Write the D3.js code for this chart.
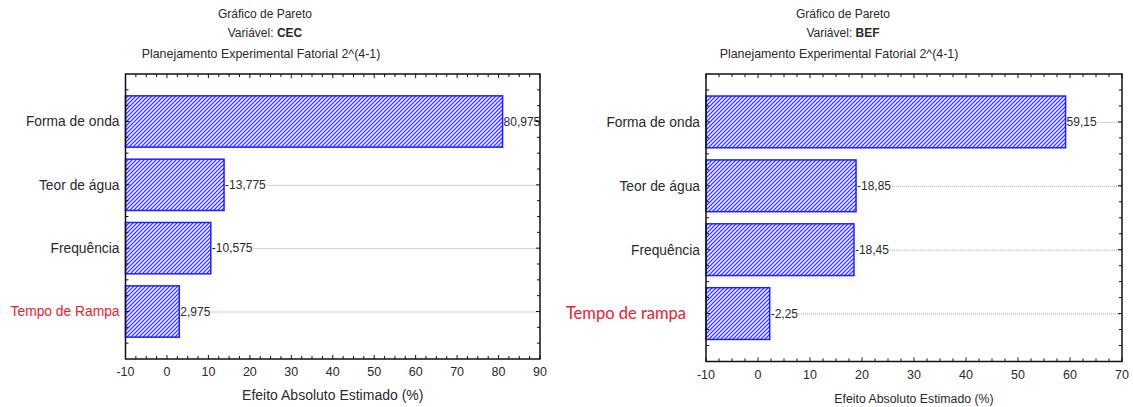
<!DOCTYPE html>
<html>
<head>
<meta charset="utf-8">
<script src="https://cdn.jsdelivr.net/npm/d3@7"></script>
<style>
  html, body { margin: 0; padding: 0; background: #fff; }
  svg { display: block; }
  text { font-family: "Liberation Sans", Arial, sans-serif; fill: #2a2a2a; }
</style>
</head>
<body>
<svg id="chart" width="1133" height="407"></svg>
<script>
// Factors, in Pareto order
const factorsCEC = ["Forma de onda", "Teor de água", "Frequência", "Tempo de Rampa"];
const factorsBEF = ["Forma de onda", "Teor de água", "Frequência", "Tempo de rampa"];

// Estimated effects (signed); bar length is the absolute value
const effectsCEC = [80.975, -13.775, -10.575, 2.975];
const effectsBEF = [59.15, -18.85, -18.45, -2.25];

// Axis ticks
const ticksCEC = [-10, 0, 10, 20, 30, 40, 50, 60, 70, 80, 90];
const ticksBEF = [-10, 0, 10, 20, 30, 40, 50, 60, 70];

const titleLine1 = "Gráfico de Pareto";
const titleVarPrefix = "Variável: ";
const titleLine3 = "Planejamento Experimental Fatorial 2^(4-1)";
const axisTitle = "Efeito Absoluto Estimado (%)";

const svg = d3.select("#chart");

// Diagonal hatch used for the bars
const defs = svg.append("defs");
const pat = defs.append("pattern")
  .attr("id", "hatch")
  .attr("patternUnits", "userSpaceOnUse")
  .attr("width", 4).attr("height", 4);
pat.append("rect").attr("width", 4).attr("height", 4).attr("fill", "#fff");
pat.append("path")
  .attr("d", "M-1,1 l2,-2 M0,4 l4,-4 M3,5 l2,-2")
  .attr("stroke", "#3a3aff").attr("stroke-width", 1.3);

const fmt = v => String(v).replace(".", ",");

function pareto(cfg) {
  const g = svg.append("g");
  const x = d3.scaleLinear().domain(cfg.domain).range([cfg.left, cfg.right]);
  const y = d3.scaleBand().domain(cfg.factors).range([cfg.top, cfg.bottom])
    .paddingInner(0.19).paddingOuter(0.345);
  const step = y.step();

  // Titles
  const tc = cfg.titleX;
  g.append("text").attr("x", tc).attr("y", 18).attr("text-anchor", "middle")
    .attr("font-size", 12).text(titleLine1);
  const t2 = g.append("text").attr("x", tc).attr("y", 37).attr("text-anchor", "middle")
    .attr("font-size", 12);
  t2.append("tspan").text(titleVarPrefix);
  t2.append("tspan").attr("font-weight", "bold").text(cfg.variable);
  g.append("text").attr("x", tc - 4).attr("y", 58).attr("text-anchor", "middle")
    .attr("font-size", 12.4).text(titleLine3);

  const data = cfg.factors.map((f, i) => ({ factor: f, effect: cfg.effects[i] }));

  // Value labels, with dotted reference lines running on to the right edge
  const labels = g.append("g");
  const lbl = labels.selectAll("text").data(data).join("text")
    .attr("x", d => x(Math.abs(d.effect)) + 1)
    .attr("y", d => y(d.factor) + y.bandwidth() / 2)
    .attr("dy", "0.35em")
    .attr("font-size", cfg.valueSize)
    .text(d => fmt(d.effect));
  lbl.each(function (d) {
    const w = this.getComputedTextLength();
    const x0 = x(Math.abs(d.effect)) + w + 2;
    if (x0 < cfg.right - 2) {
      g.insert("line", ":first-child")
        .attr("x1", x0).attr("x2", cfg.right)
        .attr("y1", y(d.factor) + y.bandwidth() / 2 + 0.5)
        .attr("y2", y(d.factor) + y.bandwidth() / 2 + 0.5)
        .attr("stroke", "#a8a8a8").attr("stroke-width", 1)
        .attr("stroke-dasharray", "1,1");
    }
  });

  // Bars
  g.append("g").selectAll("rect").data(data).join("rect")
    .attr("x", x(cfg.domain[0]))
    .attr("y", d => y(d.factor))
    .attr("width", d => x(Math.abs(d.effect)) - x(cfg.domain[0]))
    .attr("height", y.bandwidth())
    .attr("fill", "url(#hatch)")
    .attr("stroke", "#1f1fff").attr("stroke-width", 1.5);

  // Factor names
  g.append("g").selectAll("text").data(data).join("text")
    .attr("x", (d, i) => i === 3 ? cfg.left - cfg.redOffset : cfg.left - 6)
    .attr("y", d => y(d.factor) + y.bandwidth() / 2)
    .attr("dy", "0.35em")
    .attr("text-anchor", "end")
    .attr("font-size", (d, i) => i === 3 ? cfg.redSize : 13.8)
    .style("font-family", (d, i) => i === 3 ? cfg.redFont : null)
    .style("fill", (d, i) => i === 3 ? "#f0202a" : null)
    .text(d => d.factor);

  // Frame
  g.append("rect")
    .attr("x", cfg.left).attr("y", cfg.top)
    .attr("width", cfg.right - cfg.left).attr("height", cfg.bottom - cfg.top)
    .attr("fill", "none").attr("stroke", "#111").attr("stroke-width", 1.5);

  // X ticks: major every 10, minor every 2.5, on bottom and top edges
  const minor = d3.range(cfg.domain[0], cfg.domain[1] + 0.01, 2.5);
  const tk = g.append("g").attr("stroke", "#111").attr("stroke-width", 1);
  minor.forEach(v => {
    const major = Math.abs(v % 10) < 1e-6;
    const len = major ? 4 : 3;
    tk.append("line").attr("x1", x(v)).attr("x2", x(v))
      .attr("y1", cfg.bottom).attr("y2", cfg.bottom - len);
    tk.append("line").attr("x1", x(v)).attr("x2", x(v))
      .attr("y1", cfg.top).attr("y2", cfg.top + len);
  });
  // Y ticks every quarter step, on both sides
  const c0 = y(cfg.factors[0]) + y.bandwidth() / 2;
  for (let k = -4; k <= 20; k++) {
    const yy = c0 + k * step / 4;
    if (yy <= cfg.top + 2 || yy >= cfg.bottom - 2) continue;
    const len = k % 4 === 0 ? 4 : 3;
    tk.append("line").attr("x1", cfg.left).attr("x2", cfg.left + len)
      .attr("y1", yy).attr("y2", yy);
    tk.append("line").attr("x1", cfg.right).attr("x2", cfg.right - len)
      .attr("y1", yy).attr("y2", yy);
  }

  // Tick labels
  g.append("g").selectAll("text").data(cfg.ticks).join("text")
    .attr("x", d => x(d)).attr("y", cfg.bottom + 17)
    .attr("text-anchor", "middle").attr("font-size", 12.5)
    .text(d => d);

  // Axis title
  g.append("text").attr("x", (cfg.left + cfg.right) / 2 - 0).attr("y", cfg.bottom + 41)
    .attr("text-anchor", "middle").attr("font-size", cfg.axisTitleSize)
    .text(axisTitle);
}

pareto({
  factors: factorsCEC, effects: effectsCEC, ticks: ticksCEC, variable: "CEC",
  domain: [-10, 90], left: 125.5, right: 540, top: 74, bottom: 359,
  titleX: 265, redOffset: 6, redSize: 13.8, redFont: null,
  axisTitleSize: 14, valueSize: 12
});

pareto({
  factors: factorsBEF, effects: effectsBEF, ticks: ticksBEF, variable: "BEF",
  domain: [-10, 70], left: 706, right: 1122, top: 74, bottom: 361.5,
  titleX: 843, redOffset: 20, redSize: 16.5, redFont: "Lato, 'Noto Sans', sans-serif",
  axisTitleSize: 12.3, valueSize: 12
});
</script>
</body>
</html>
